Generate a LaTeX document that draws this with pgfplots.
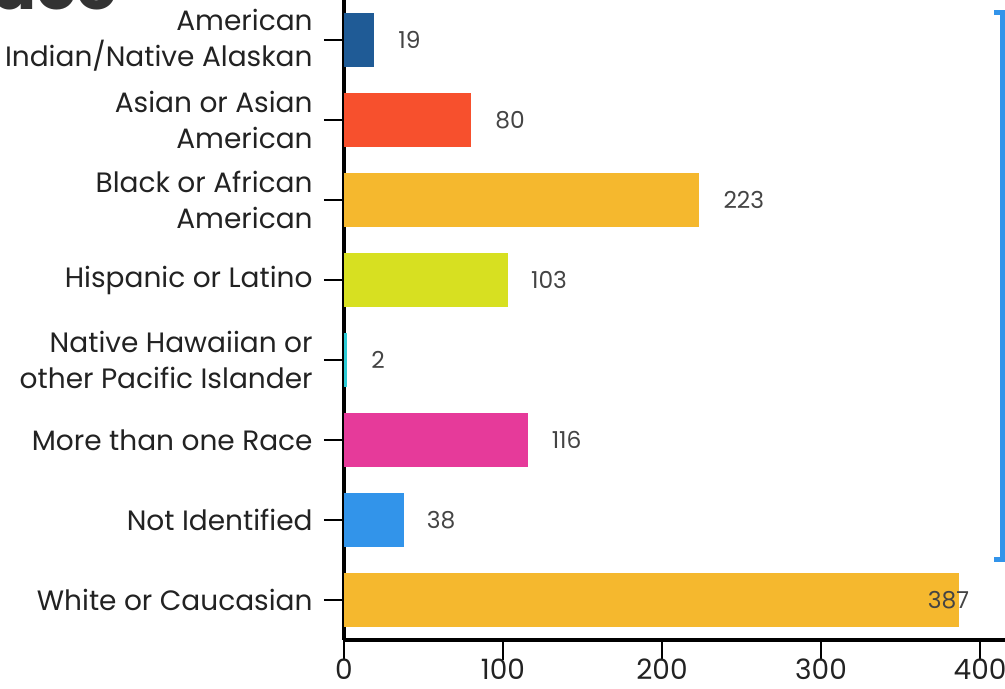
\documentclass[border=0pt]{standalone}
\usepackage{pgfplots}
\pgfplotsset{compat=1.18}
\usepackage{fontspec}
\setmainfont{Poppins}
\definecolor{c1}{HTML}{1F5B96}
\definecolor{c2}{HTML}{F7502D}
\definecolor{c3}{HTML}{F5B82E}
\definecolor{c4}{HTML}{D7E021}
\definecolor{c5}{HTML}{2ECCD6}
\definecolor{c6}{HTML}{E63A9A}
\definecolor{c7}{HTML}{3294EA}
\definecolor{txt}{HTML}{222222}
\definecolor{val}{HTML}{444444}
\begin{document}
\begin{tikzpicture}[x=1pt,y=1pt]
\clip (-258,-36) rectangle (495.75,480);
\begin{axis}[
  at={(0,0)}, anchor=south west,
  scale only axis, width=495.75pt, height=480pt,
  xmin=0, xmax=415.7, ymin=-0.5, ymax=7.5, y dir=reverse,
  axis x line*=bottom, axis y line*=left,
  axis line style={line width=2.5pt, black},
  xtick={0,100,200,300,400}, ytick={0,1,2,3,4,5,6,7},
  yticklabels={{American\\Indian/Native Alaskan},{Asian or Asian\\American},{Black or African\\American},{Hispanic or Latino},{Native Hawaiian or\\other Pacific Islander},{More than one Race},{Not Identified},{White or Caucasian}},
  tick style={line width=1.5pt, black},
  tick align=outside,
  major tick length=15pt,
  /pgf/number format/assume math mode=true,
  x tick label style={font=\fontsize{21}{24}\selectfont, text=txt, yshift=4.5pt},
  y tick label style={font=\fontsize{21}{27}\selectfont, align=right, text=txt, xshift=-5pt},
  clip=false,
  bars/.style={xbar, draw=none, bar width=0.675, bar shift=0pt},
]
\addplot[bars, fill=c1] coordinates {(19,0)};
\addplot[bars, fill=c2] coordinates {(80,1)};
\addplot[bars, fill=c3] coordinates {(223,2)};
\addplot[bars, fill=c4] coordinates {(103,3)};
\addplot[bars, fill=c5] coordinates {(2,4)};
\addplot[bars, fill=c6] coordinates {(116,5)};
\addplot[bars, fill=c7] coordinates {(38,6)};
\addplot[bars, fill=c3] coordinates {(387,7)};
\addplot[draw=none, mark=none, nodes near coords, point meta=explicit symbolic,
  nodes near coords style={anchor=west, inner sep=0pt, text=val, font=\fontsize{17.5}{20}\selectfont}]
  coordinates {(34,0)[19] (95,1)[80] (238.5,2)[223] (117.5,3)[103] (17,4)[2] (130.5,5)[116] (52,6)[38] (367,7)[387]};
\end{axis}
\node[anchor=base east, font=\fontsize{50}{50}\selectfont\bfseries, text=darkgray!80!black] at (-166,473) {Race};
\draw[line width=3.75pt, c7, line join=miter] (487.5,470.5) -- (493.9,470.5) -- (493.9,60) -- (487.5,60);
\end{tikzpicture}
\end{document}
